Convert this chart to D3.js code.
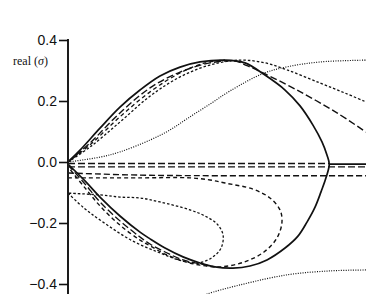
<!DOCTYPE html>
<html>
<head>
<meta charset="utf-8">
<script src="https://cdn.jsdelivr.net/npm/d3@7"></script>
<style>
  body { margin: 0; background: #ffffff; }
</style>
</head>
<body>
<div id="graf"></div>
<script>
// valores del eje y
yTicks = [0.4, 0.2, 0.0, -0.2, -0.4]

// curvas, cada punto es [k, real(sigma)]
solidLoop = [[0,0],[0.121,0.039],[0.322,0.111],[0.523,0.180],[0.725,0.236],[0.926,0.282],[1.128,0.311],
  [1.329,0.328],[1.581,0.334],[1.782,0.325],[1.983,0.285],[2.185,0.236],[2.336,0.184],[2.466,0.121],
  [2.557,0.066],[2.607,0.023],[2.630,-0.007],
  [2.597,-0.052],[2.547,-0.098],[2.487,-0.148],[2.406,-0.197],[2.315,-0.243],[2.185,-0.282],
  [2.003,-0.321],[1.832,-0.341],[1.661,-0.348],[1.480,-0.344],[1.329,-0.331],[1.158,-0.311],
  [0.977,-0.282],[0.826,-0.252],[0.725,-0.230],[0.523,-0.177],[0.322,-0.115],[0.171,-0.062],[0,-0.007]]
solidFlat = [[2.630,-0.007],[3.0,-0.007]]

longUpper = [[0,0],[0.221,0.062],[0.523,0.161],[0.826,0.243],[1.128,0.295],[1.430,0.325],[1.682,0.331],
  [1.802,0.316],[1.963,0.292],[2.305,0.236],[2.708,0.161],[3.0,0.098]]
fineUpper = [[0,0],[0.221,0.049],[0.523,0.131],[0.826,0.216],[1.128,0.279],[1.430,0.318],[1.732,0.334],
  [1.984,0.325],[2.205,0.302],[2.537,0.259],[2.789,0.226],[3.0,0.197]]
medUpper = [[0,0],[0.221,0.056],[0.523,0.148],[0.826,0.230],[1.128,0.292],[1.379,0.325],[1.581,0.334]]

longFlat1 = [[0,-0.005],[2.630,-0.005]]
longFlat2 = [[0,-0.016],[3.0,-0.016]]
longFlat3 = [[0,-0.036],[0.725,-0.043],[1.5,-0.045],[3.0,-0.045]]

medLoop = [[0,-0.052],[0.725,-0.052],[1.228,-0.052],[1.430,-0.059],[1.581,-0.069],[1.862,-0.089],
  [2.033,-0.118],[2.134,-0.157],[2.154,-0.197],[2.104,-0.249],[1.973,-0.295],[1.772,-0.328],[1.530,-0.344],
  [1.329,-0.338],[1.158,-0.325],[0.977,-0.302],[0.826,-0.275],[0.725,-0.256],[0.523,-0.207],
  [0.322,-0.144],[0.171,-0.085],[0,-0.016]]
longLower = [[0,-0.010],[0.171,-0.072],[0.322,-0.131],[0.523,-0.193],[0.725,-0.246],[0.826,-0.269],
  [0.977,-0.295],[1.158,-0.321],[1.329,-0.334],[1.480,-0.344]]

fineLoop = [[0,-0.102],[0.161,-0.151],[0.322,-0.190],[0.634,-0.256],[0.926,-0.298],[1.158,-0.325],
  [1.329,-0.330],[1.460,-0.311],[1.541,-0.282],[1.561,-0.239],[1.500,-0.203],[1.379,-0.177],
  [1.228,-0.157],[0.926,-0.131],[0.725,-0.118],[0.523,-0.115],[0.322,-0.108],[0,-0.102]]

dotUpper = [[0,0],[0.322,0.016],[0.523,0.033],[0.826,0.072],[1.027,0.105],[1.208,0.144],[1.430,0.190],
  [1.631,0.233],[1.963,0.290],[2.205,0.312],[2.537,0.328],[3.0,0.334]]
dotLower = [[1.329,-0.443],[1.399,-0.433],[1.732,-0.403],[2.205,-0.370],[2.638,-0.357],[3.0,-0.354]]

// espacio de visualizacion
ancho_total = 366
alto_total = 294

svg = d3.select('#graf').append('svg')
        .attr('width', ancho_total)
        .attr('height', alto_total)

x = d3.scaleLinear().domain([0, 3]).range([68, 366])
y = d3.scaleLinear().domain([-0.4, 0.4]).range([284, 40])

svg.append('clipPath')
   .attr('id', 'clip')
   .append('rect')
   .attr('x', 69)
   .attr('y', 0)
   .attr('width', 300)
   .attr('height', alto_total)

// estilos de linea
curvas = [
  {pts: dotUpper,  dash: '1,1.4', w: 1.2},
  {pts: dotLower,  dash: '1,1.4', w: 1.2},
  {pts: fineLoop,  dash: '2.5,2', w: 1.3},
  {pts: fineUpper, dash: '2.5,2', w: 1.3},
  {pts: medUpper,  dash: '4,3', w: 1.3},
  {pts: medLoop,   dash: '4,3', w: 1.4},
  {pts: longUpper, dash: '7,3', w: 1.4},
  {pts: longLower, dash: '7,3', w: 1.3},
  {pts: longFlat1, dash: '7,3', w: 1.4},
  {pts: longFlat2, dash: '7,3', w: 1.4},
  {pts: longFlat3, dash: '6,3', w: 1.4},
  {pts: solidLoop, dash: null, w: 1.7},
  {pts: solidFlat, dash: null, w: 1.7}
]

linea = d3.line()
          .x(d => x(d[0]))
          .y(d => y(d[1]))
          .curve(d3.curveCatmullRom.alpha(0.5))

g = svg.append('g').attr('clip-path', 'url(#clip)')
curvas.forEach(c => {
  g.append('path')
   .attr('d', linea(c.pts))
   .attr('fill', 'none')
   .attr('stroke', '#111')
   .attr('stroke-width', c.w)
   .attr('stroke-dasharray', c.dash)
})

// eje y
ejeY = d3.axisLeft(y)
         .tickValues(yTicks)
         .tickSize(9)
         .tickSizeOuter(0)
         .tickPadding(2)
         .tickFormat(d3.format('.1f'))

ejeG = svg.append('g')
          .attr('transform', 'translate(68,0)')
          .call(ejeY)
ejeG.select('.domain').remove()
ejeG.selectAll('line').attr('stroke', '#111').attr('stroke-width', 1.6)
ejeG.selectAll('text')
    .attr('font-family', 'Liberation Sans, Arial, sans-serif')
    .attr('font-size', '14px')
    .attr('fill', '#111')

svg.append('line')
   .attr('x1', 68).attr('x2', 68)
   .attr('y1', y(0.4) - 1).attr('y2', alto_total)
   .attr('stroke', '#111')
   .attr('stroke-width', 1.9)

etiqueta = svg.append('text')
              .attr('x', 13)
              .attr('y', 65)
              .attr('font-family', 'Liberation Serif, DejaVu Serif, serif')
              .attr('font-size', '12px')
              .attr('fill', '#111')
etiqueta.append('tspan').text('real (')
etiqueta.append('tspan').attr('font-style', 'italic').text('σ')
etiqueta.append('tspan').text(')')
</script>
</body>
</html>
